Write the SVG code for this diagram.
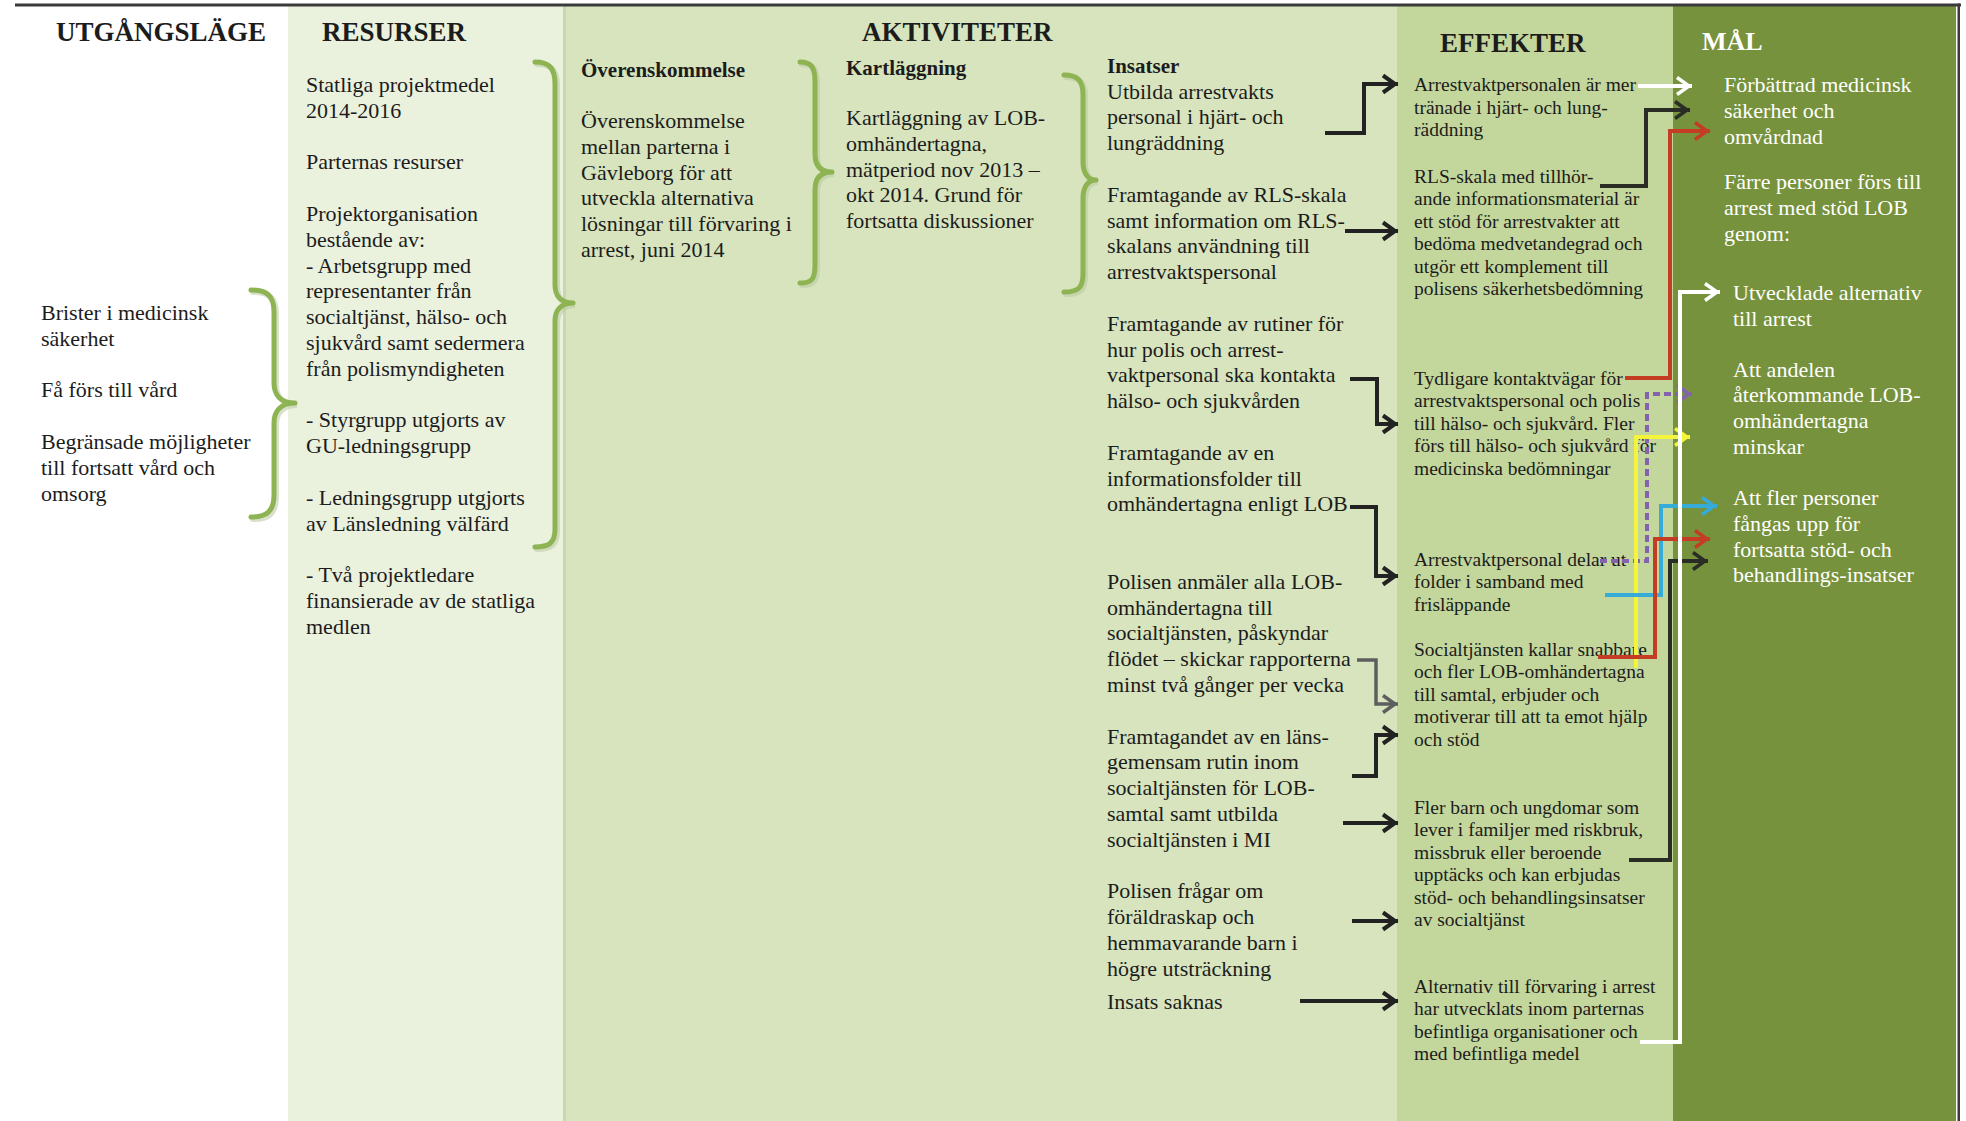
<svg xmlns="http://www.w3.org/2000/svg" width="1966" height="1121" viewBox="0 0 1966 1121">
  <style>
    text { font-family: "Liberation Serif", "Times New Roman", serif; fill: #1c1c1c; }
    .b { font-size: 22px; }
    .e { font-size: 19.5px; }
    .w { font-size: 22px; fill: #ffffff; }
    .h { font-size: 27px; font-weight: bold; }
    .hw { font-size: 26px; font-weight: bold; fill: #ffffff; }
    .s { font-size: 21px; font-weight: bold; }
    .brace { fill: none; stroke: #8db352; stroke-width: 5; stroke-linecap: round; stroke-linejoin: round; }
    .brace-sh { fill: none; stroke: #b9c8a2; stroke-width: 6; stroke-linecap: round; opacity: 0.55; }
    .k { fill: none; stroke: #222222; stroke-width: 4; stroke-linejoin: miter; }
    .c { fill: none; stroke-width: 4; stroke-linejoin: miter; }
  </style>
  <defs>
    <marker id="ah-black" markerUnits="userSpaceOnUse" viewBox="-20 -12 24 24" refX="0" refY="0" markerWidth="24" markerHeight="24" orient="auto" overflow="visible">
      <path d="M-15,-8.5 L-3,0 L-15,8.5" fill="none" stroke="#222222" stroke-width="4"/>
    </marker>
    <marker id="ah-gray" markerUnits="userSpaceOnUse" viewBox="-20 -12 24 24" refX="0" refY="0" markerWidth="24" markerHeight="24" orient="auto" overflow="visible">
      <path d="M-15,-8.5 L-3,0 L-15,8.5" fill="none" stroke="#5e5e5e" stroke-width="3.5"/>
    </marker>
    <marker id="ah-white" markerUnits="userSpaceOnUse" viewBox="-20 -12 24 24" refX="0" refY="0" markerWidth="24" markerHeight="24" orient="auto" overflow="visible">
      <path d="M-15,-8.5 L-3,0 L-15,8.5" fill="none" stroke="#ffffff" stroke-width="3.5"/>
    </marker>
    <marker id="ah-dark" markerUnits="userSpaceOnUse" viewBox="-20 -12 24 24" refX="0" refY="0" markerWidth="24" markerHeight="24" orient="auto" overflow="visible">
      <path d="M-15,-8.5 L-3,0 L-15,8.5" fill="none" stroke="#2a2d26" stroke-width="3.5"/>
    </marker>
    <marker id="ah-red" markerUnits="userSpaceOnUse" viewBox="-20 -12 24 24" refX="0" refY="0" markerWidth="24" markerHeight="24" orient="auto" overflow="visible">
      <path d="M-15,-8.5 L-3,0 L-15,8.5" fill="none" stroke="#c43c24" stroke-width="3.5"/>
    </marker>
    <marker id="ah-purple" markerUnits="userSpaceOnUse" viewBox="-20 -12 24 24" refX="0" refY="0" markerWidth="24" markerHeight="24" orient="auto" overflow="visible">
      <path d="M-15,-8.5 L-3,0 L-15,8.5" fill="none" stroke="#8462ad" stroke-width="3.5"/>
    </marker>
    <marker id="ah-yellow" markerUnits="userSpaceOnUse" viewBox="-20 -12 24 24" refX="0" refY="0" markerWidth="24" markerHeight="24" orient="auto" overflow="visible">
      <path d="M-15,-8.5 L-3,0 L-15,8.5" fill="none" stroke="#f4f43a" stroke-width="3.5"/>
    </marker>
    <marker id="ah-cyan" markerUnits="userSpaceOnUse" viewBox="-20 -12 24 24" refX="0" refY="0" markerWidth="24" markerHeight="24" orient="auto" overflow="visible">
      <path d="M-15,-8.5 L-3,0 L-15,8.5" fill="none" stroke="#36abd8" stroke-width="3.5"/>
    </marker>
  </defs>

  <!-- page background and column bands -->
  <rect x="0" y="0" width="1966" height="1121" fill="#ffffff"/>
  <rect x="288" y="6" width="275" height="1115" fill="#eaf1dd"/>
  <rect x="563" y="6" width="834" height="1115" fill="#d7e4bd"/>
  <rect x="563" y="6" width="3" height="1115" fill="#c9d6b2"/>
  <rect x="1397" y="6" width="276" height="1115" fill="#c3d69b"/>
  <rect x="1673" y="6" width="283" height="1115" fill="#76923c"/>
  <rect x="15" y="3.5" width="1946" height="3" fill="#3a3a3a"/>
  <rect x="1957.5" y="3.5" width="2.5" height="1118" fill="#3a3a3a"/>

  <!-- braces -->
  <g id="braces">
    <path class="brace-sh" d="M253,292 C268,292 276,297 276,314 L276,385 C276,397 283,405 297,405 C283,405 276,413 276,425 L276,497 C276,514 268,519 253,519"/>
    <path class="brace" d="M251,290 C266,290 274,295 274,312 L274,383 C274,395 281,403 295,403 C281,403 274,411 274,423 L274,495 C274,512 266,517 251,517"/>
    <path class="brace-sh" d="M537,64 C551,64 557,70 557,86 L557,287 C557,298 563,305 575,305 C563,305 557,312 557,323 L557,531 C557,545 551,549 537,549"/>
    <path class="brace" d="M535,62 C549,62 555,68 555,84 L555,285 C555,296 561,303 573,303 C561,303 555,310 555,321 L555,529 C555,543 549,547 535,547"/>
    <path class="brace-sh" d="M802,64 C814,64 817,70 817,84 L817,156 C817,167 822,174 834,174 C822,174 817,181 817,192 L817,267 C817,281 814,285 802,285"/>
    <path class="brace" d="M800,62 C812,62 815,68 815,82 L815,154 C815,165 820,172 832,172 C820,172 815,179 815,190 L815,265 C815,279 812,283 800,283"/>
    <path class="brace-sh" d="M1066,77 C1080,77 1085,83 1085,97 L1085,164 C1085,175 1090,182 1098,182 C1090,182 1085,189 1085,200 L1085,276 C1085,290 1080,294 1066,294"/>
    <path class="brace" d="M1064,75 C1078,75 1083,81 1083,95 L1083,162 C1083,173 1088,180 1096,180 C1088,180 1083,187 1083,198 L1083,274 C1083,288 1078,292 1064,292"/>
  </g>

  <!-- UTGÅNGSLÄGE -->
  <g id="utgangslage">
    <text class="h" x="56" y="41">UTGÅNGSLÄGE</text>
    <text class="b">
      <tspan x="41" y="320">Brister i medicinsk</tspan>
      <tspan x="41" y="346">säkerhet</tspan>
      <tspan x="41" y="397">Få förs till vård</tspan>
      <tspan x="41" y="449">Begränsade möjligheter</tspan>
      <tspan x="41" y="475">till fortsatt vård och</tspan>
      <tspan x="41" y="501">omsorg</tspan>
    </text>
  </g>

  <!-- RESURSER -->
  <g id="resurser">
    <text class="h" x="322" y="41">RESURSER</text>
    <text class="b">
      <tspan x="306" y="92">Statliga projektmedel</tspan>
      <tspan x="306" y="117.8">2014-2016</tspan>
      <tspan x="306" y="169.4">Parternas resurser</tspan>
      <tspan x="306" y="221">Projektorganisation</tspan>
      <tspan x="306" y="246.8">bestående av:</tspan>
      <tspan x="306" y="272.6">- Arbetsgrupp med</tspan>
      <tspan x="306" y="298.4">representanter från</tspan>
      <tspan x="306" y="324.2">socialtjänst, hälso- och</tspan>
      <tspan x="306" y="350">sjukvård samt sedermera</tspan>
      <tspan x="306" y="375.8">från polismyndigheten</tspan>
      <tspan x="306" y="427.4">- Styrgrupp utgjorts av</tspan>
      <tspan x="306" y="453.2">GU-ledningsgrupp</tspan>
      <tspan x="306" y="504.8">- Ledningsgrupp utgjorts</tspan>
      <tspan x="306" y="530.6">av Länsledning välfärd</tspan>
      <tspan x="306" y="582.2">- Två projektledare</tspan>
      <tspan x="306" y="608">finansierade av de statliga</tspan>
      <tspan x="306" y="633.8">medlen</tspan>
    </text>
  </g>

  <!-- AKTIVITETER -->
  <g id="aktiviteter-rubrik">
    <text class="h" x="862" y="41">AKTIVITETER</text>
  </g>

  <g id="overenskommelse">
    <text class="s" x="581" y="77">Överenskommelse</text>
    <text class="b">
      <tspan x="581" y="128">Överenskommelse</tspan>
      <tspan x="581" y="153.8">mellan parterna i</tspan>
      <tspan x="581" y="179.6">Gävleborg för att</tspan>
      <tspan x="581" y="205.4">utveckla alternativa</tspan>
      <tspan x="581" y="231.2">lösningar till förvaring i</tspan>
      <tspan x="581" y="257">arrest, juni 2014</tspan>
    </text>
  </g>

  <g id="kartlaggning">
    <text class="s" x="846" y="75">Kartläggning</text>
    <text class="b">
      <tspan x="846" y="125">Kartläggning av LOB-</tspan>
      <tspan x="846" y="150.8">omhändertagna,</tspan>
      <tspan x="846" y="176.6">mätperiod nov 2013 –</tspan>
      <tspan x="846" y="202.4">okt 2014. Grund för</tspan>
      <tspan x="846" y="228.2">fortsatta diskussioner</tspan>
    </text>
  </g>

  <g id="insatser">
    <text class="s" x="1107" y="73">Insatser</text>
    <text class="b">
      <tspan x="1107" y="98.5">Utbilda arrestvakts</tspan>
      <tspan x="1107" y="124.3">personal i hjärt- och</tspan>
      <tspan x="1107" y="150.1">lungräddning</tspan>
      <tspan x="1107" y="201.7">Framtagande av RLS-skala</tspan>
      <tspan x="1107" y="227.5">samt information om RLS-</tspan>
      <tspan x="1107" y="253.3">skalans användning till</tspan>
      <tspan x="1107" y="279.1">arrestvaktspersonal</tspan>
      <tspan x="1107" y="330.7">Framtagande av rutiner för</tspan>
      <tspan x="1107" y="356.5">hur polis och arrest-</tspan>
      <tspan x="1107" y="382.3">vaktpersonal ska kontakta</tspan>
      <tspan x="1107" y="408.1">hälso- och sjukvården</tspan>
      <tspan x="1107" y="459.7">Framtagande av en</tspan>
      <tspan x="1107" y="485.5">informationsfolder till</tspan>
      <tspan x="1107" y="511.3">omhändertagna enligt LOB</tspan>
      <tspan x="1107" y="588.7">Polisen anmäler alla LOB-</tspan>
      <tspan x="1107" y="614.5">omhändertagna till</tspan>
      <tspan x="1107" y="640.3">socialtjänsten, påskyndar</tspan>
      <tspan x="1107" y="666.1">flödet – skickar rapporterna</tspan>
      <tspan x="1107" y="691.9">minst två gånger per vecka</tspan>
      <tspan x="1107" y="743.5">Framtagandet av en läns-</tspan>
      <tspan x="1107" y="769.3">gemensam rutin inom</tspan>
      <tspan x="1107" y="795.1">socialtjänsten för LOB-</tspan>
      <tspan x="1107" y="820.9">samtal samt utbilda</tspan>
      <tspan x="1107" y="846.7">socialtjänsten i MI</tspan>
      <tspan x="1107" y="898.3">Polisen frågar om</tspan>
      <tspan x="1107" y="924.1">föräldraskap och</tspan>
      <tspan x="1107" y="949.9">hemmavarande barn i</tspan>
      <tspan x="1107" y="975.7">högre utsträckning</tspan>
      <tspan x="1107" y="1009">Insats saknas</tspan>
    </text>
  </g>

  <!-- EFFEKTER -->
  <g id="effekter">
    <text class="h" x="1440" y="52">EFFEKTER</text>
    <text class="e">
      <tspan x="1414" y="91">Arrestvaktpersonalen är mer</tspan>
      <tspan x="1414" y="113.5">tränade i hjärt- och lung-</tspan>
      <tspan x="1414" y="136">räddning</tspan>
      <tspan x="1414" y="183">RLS-skala med tillhör-</tspan>
      <tspan x="1414" y="205.4">ande informationsmaterial är</tspan>
      <tspan x="1414" y="227.8">ett stöd för arrestvakter att</tspan>
      <tspan x="1414" y="250.2">bedöma medvetandegrad och</tspan>
      <tspan x="1414" y="272.6">utgör ett komplement till</tspan>
      <tspan x="1414" y="295">polisens säkerhetsbedömning</tspan>
      <tspan x="1414" y="385">Tydligare kontaktvägar för</tspan>
      <tspan x="1414" y="407.4">arrestvaktspersonal och polis</tspan>
      <tspan x="1414" y="429.8">till hälso- och sjukvård. Fler</tspan>
      <tspan x="1414" y="452.2">förs till hälso- och sjukvård för</tspan>
      <tspan x="1414" y="474.6">medicinska bedömningar</tspan>
      <tspan x="1414" y="566">Arrestvaktpersonal delar ut</tspan>
      <tspan x="1414" y="588.4">folder i samband med</tspan>
      <tspan x="1414" y="610.8">frisläppande</tspan>
      <tspan x="1414" y="656">Socialtjänsten kallar snabbare</tspan>
      <tspan x="1414" y="678.4">och fler LOB-omhändertagna</tspan>
      <tspan x="1414" y="700.8">till samtal, erbjuder och</tspan>
      <tspan x="1414" y="723.2">motiverar till att ta emot hjälp</tspan>
      <tspan x="1414" y="745.6">och stöd</tspan>
      <tspan x="1414" y="814">Fler barn och ungdomar som</tspan>
      <tspan x="1414" y="836.4">lever i familjer med riskbruk,</tspan>
      <tspan x="1414" y="858.8">missbruk eller beroende</tspan>
      <tspan x="1414" y="881.2">upptäcks och kan erbjudas</tspan>
      <tspan x="1414" y="903.6">stöd- och behandlingsinsatser</tspan>
      <tspan x="1414" y="926">av socialtjänst</tspan>
      <tspan x="1414" y="993">Alternativ till förvaring i arrest</tspan>
      <tspan x="1414" y="1015.4">har utvecklats inom parternas</tspan>
      <tspan x="1414" y="1037.8">befintliga organisationer och</tspan>
      <tspan x="1414" y="1060.2">med befintliga medel</tspan>
    </text>
  </g>

  <!-- MÅL -->
  <g id="mal">
    <text class="hw" x="1702" y="50">MÅL</text>
    <text class="w">
      <tspan x="1724" y="92">Förbättrad medicinsk</tspan>
      <tspan x="1724" y="117.8">säkerhet och</tspan>
      <tspan x="1724" y="143.6">omvårdnad</tspan>
      <tspan x="1724" y="189">Färre personer förs till</tspan>
      <tspan x="1724" y="214.8">arrest med stöd LOB</tspan>
      <tspan x="1724" y="240.6">genom:</tspan>
      <tspan x="1733" y="300">Utvecklade alternativ</tspan>
      <tspan x="1733" y="325.8">till arrest</tspan>
      <tspan x="1733" y="376.5">Att andelen</tspan>
      <tspan x="1733" y="402.3">återkommande LOB-</tspan>
      <tspan x="1733" y="428.1">omhändertagna</tspan>
      <tspan x="1733" y="453.9">minskar</tspan>
      <tspan x="1733" y="505">Att fler personer</tspan>
      <tspan x="1733" y="530.8">fångas upp för</tspan>
      <tspan x="1733" y="556.6">fortsatta stöd- och</tspan>
      <tspan x="1733" y="582.4">behandlings-insatser</tspan>
    </text>
  </g>

  <!-- connectors -->
  <g id="connectors">
    <!-- aktiviteter to effekter -->
    <path class="k" d="M1325,133 H1364 V84 H1398" marker-end="url(#ah-black)"/>
    <path class="k" d="M1345,231 H1398" marker-end="url(#ah-black)"/>
    <path class="k" d="M1350,379 H1377 V424 H1398" marker-end="url(#ah-black)"/>
    <path class="k" d="M1350,507 H1376 V576 H1398" marker-end="url(#ah-black)"/>
    <path class="k" d="M1357,660 H1376 V704 H1398" style="stroke:#5e5e5e;stroke-width:3.5" marker-end="url(#ah-gray)"/>
    <path class="k" d="M1352,776 H1376 V735 H1398" marker-end="url(#ah-black)"/>
    <path class="k" d="M1343,823 H1398" marker-end="url(#ah-black)"/>
    <path class="k" d="M1352,921 H1398" marker-end="url(#ah-black)"/>
    <path class="k" d="M1300,1001 H1398" marker-end="url(#ah-black)"/>

    <!-- effekter to mål -->
    <path class="c" stroke="#ffffff" d="M1638,86 H1692" marker-end="url(#ah-white)"/>
    <path class="c" stroke="#2a2d26" d="M1600,186 H1646 V110 H1690" marker-end="url(#ah-dark)"/>
    <path class="c" stroke="#c43c24" d="M1625,378 H1670 V131 H1710" marker-end="url(#ah-red)"/>
    <path class="c" stroke="#8462ad" stroke-dasharray="7 4" d="M1600,561 H1647 V394 H1692" marker-end="url(#ah-purple)"/>
    <path class="c" stroke="#f4f43a" d="M1636,668 V437 H1690" marker-end="url(#ah-yellow)"/>
    <path class="c" stroke="#36abd8" d="M1605,595 H1661 V506 H1717" marker-end="url(#ah-cyan)"/>
    <path class="c" stroke="#c43c24" d="M1598,657 H1655 V539 H1710" marker-end="url(#ah-red)"/>
    <path class="c" stroke="#2a2d26" d="M1629,860 H1670 V561 H1708" marker-end="url(#ah-dark)"/>
    <path class="c" stroke="#ffffff" d="M1640,1042 H1680 V292 H1720" marker-end="url(#ah-white)"/>
  </g>
</svg>
